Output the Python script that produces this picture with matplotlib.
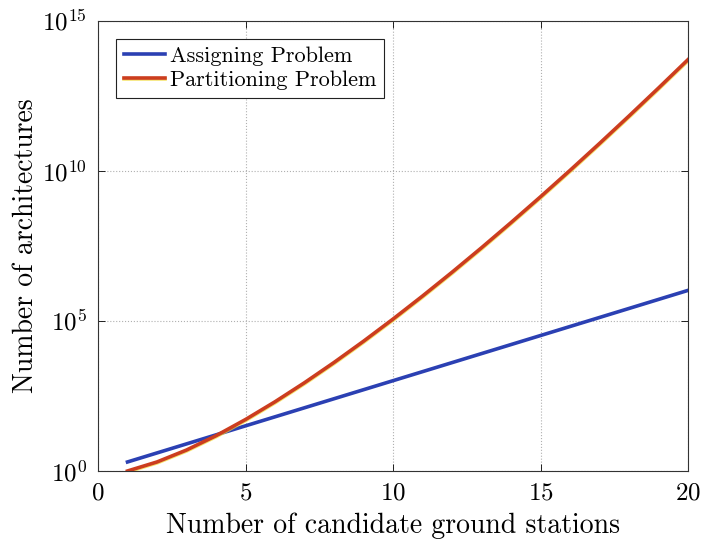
import matplotlib
matplotlib.use("Agg")
import matplotlib.pyplot as plt
import matplotlib.patheffects as pe

plt.rcParams['font.family'] = 'serif'
plt.rcParams['font.serif'] = ['cmr10']
plt.rcParams['mathtext.fontset'] = 'cm'
plt.rcParams['axes.formatter.use_mathtext'] = True

# number of candidate ground stations
n_stations = list(range(1, 21))
# assigning problem: 2^n architectures
assigning = [2, 4, 8, 16, 32, 64, 128, 256, 512, 1024, 2048, 4096, 8192,
             16384, 32768, 65536, 131072, 262144, 524288, 1048576]
# partitioning problem: Bell numbers
partitioning = [1, 2, 5, 15, 52, 203, 877, 4140, 21147, 115975, 678570,
                4213597, 27644437, 190899322, 1382958545, 10480142147,
                82864869804, 682076806159, 5832742205057, 51724158235372]

x_ticks = [0, 5, 10, 15, 20]
y_ticks = [1e0, 1e5, 1e10, 1e15]

fig = plt.figure(figsize=(7.01, 5.44), dpi=100)
ax = fig.add_axes([0.1398, 0.1342, 0.8417, 0.8272])

ax.semilogy(n_stations, assigning, color=(0.17, 0.25, 0.70), lw=2.6,
            label='Assigning Problem')
ax.semilogy(n_stations, partitioning, color=(0.80, 0.24, 0.12), lw=2.6,
            label='Partitioning Problem',
            path_effects=[pe.SimpleLineShadow(offset=(0.3, -0.6), shadow_color=(0.95, 0.85, 0.2), alpha=0.7),
                          pe.Normal()])

ax.set_xlim(0, 20)
ax.set_ylim(1e0, 1e15)
ax.set_xticks(x_ticks)
ax.set_yticks(y_ticks)
ax.minorticks_off()
ax.tick_params(direction='in', top=True, right=True, labelsize=18, length=5, width=0.6, pad=8)
ax.grid(True, which='major', linestyle=':', color='#b0b0b0', lw=0.8)
for s in ax.spines.values():
    s.set_linewidth(0.8)
    s.set_color('#333333')

ax.set_xlabel('Number of candidate ground stations', fontsize=20, labelpad=6)
ax.set_ylabel('Number of architectures', fontsize=20, labelpad=2)

leg = ax.legend(loc='upper left', fontsize=16, fancybox=False, framealpha=1,
                edgecolor='#222222', borderaxespad=0.8, handlelength=1.85,
                handletextpad=0.25, labelspacing=0.2, borderpad=0.35)
leg.get_frame().set_linewidth(0.8)

fig.savefig('out.png', dpi=100)
